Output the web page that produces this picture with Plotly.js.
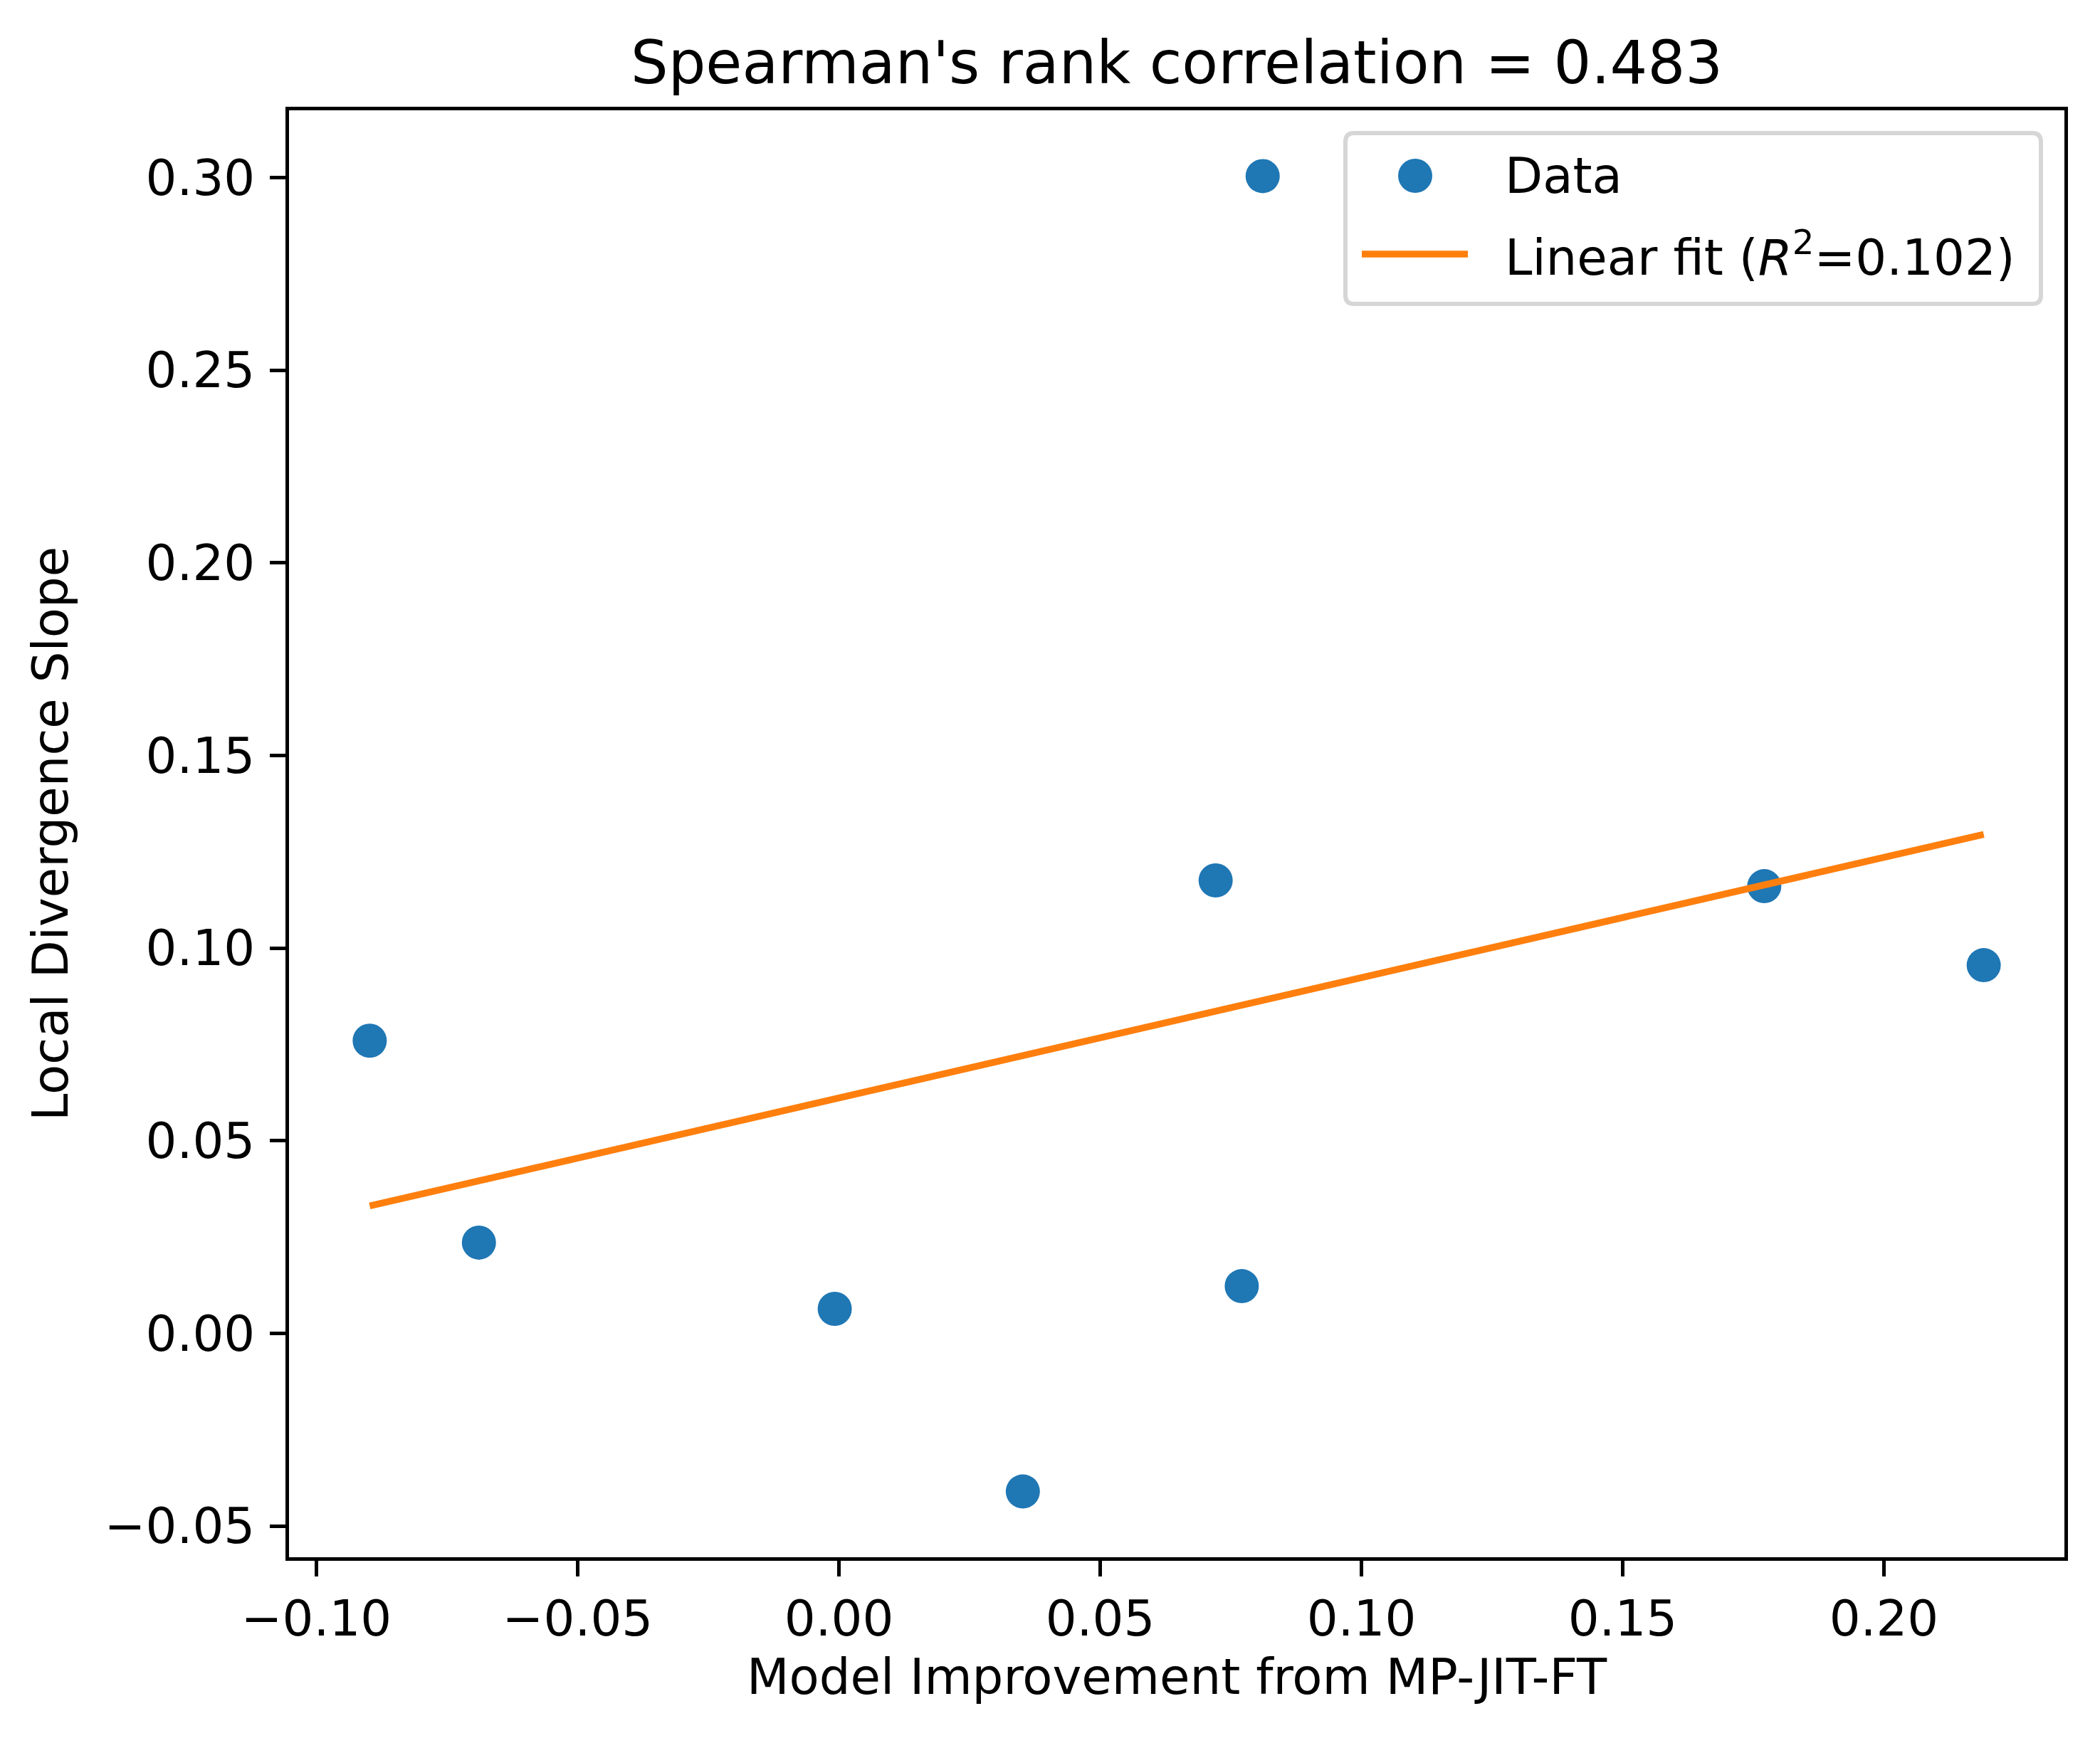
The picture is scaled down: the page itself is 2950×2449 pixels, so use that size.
<!DOCTYPE html>
<html>
<head>
<meta charset="utf-8">
<script src="https://cdn.plot.ly/plotly-3.0.1.min.js"></script>
<style>
  html, body { margin: 0; padding: 0; background: #ffffff; }
  #chart { width: 2950px; height: 2449px; }
</style>
</head>
<body>
<div id="chart"></div>
<script>
// Per-model measurements
const improvement = [-0.0898, -0.0689, -0.0008, 0.0352, 0.0721, 0.0771, 0.0811, 0.1771, 0.2191];
const divergenceSlope = [0.0760, 0.0236, 0.0064, -0.0410, 0.1176, 0.0123, 0.3004, 0.1161, 0.0956];

// Axis labels and tick values
const xLabel = "Model Improvement from MP-JIT-FT";
const yLabel = "Local Divergence Slope";
const xTicks = [-0.10, -0.05, 0.00, 0.05, 0.10, 0.15, 0.20];
const yTicks = [-0.05, 0.00, 0.05, 0.10, 0.15, 0.20, 0.25, 0.30];

// ---- statistics ----
function mean(a) { return a.reduce((s, v) => s + v, 0) / a.length; }
function ranks(a) {
  const idx = a.map((v, i) => i).sort((i, j) => a[i] - a[j]);
  const r = new Array(a.length);
  idx.forEach((k, pos) => { r[k] = pos + 1; });
  return r;
}
function pearson(x, y) {
  const mx = mean(x), my = mean(y);
  let sxy = 0, sxx = 0, syy = 0;
  for (let i = 0; i < x.length; i++) {
    sxy += (x[i] - mx) * (y[i] - my);
    sxx += (x[i] - mx) ** 2;
    syy += (y[i] - my) ** 2;
  }
  return { r: sxy / Math.sqrt(sxx * syy), slope: sxy / sxx, intercept: my - (sxy / sxx) * mx };
}
const fit = pearson(improvement, divergenceSlope);
const r2 = fit.r * fit.r;
const rho = pearson(ranks(improvement), ranks(divergenceSlope)).r;

const xMin = Math.min(...improvement), xMax = Math.max(...improvement);
const fitX = [xMin, xMax];
const fitY = fitX.map(v => fit.intercept + fit.slope * v);

// 5% padding around the data, like an auto-scaled axis
function padded(a) {
  const lo = Math.min(...a), hi = Math.max(...a), m = (hi - lo) * 0.05;
  return [lo - m, hi + m];
}

// ---- page geometry ----
const W = 2950, H = 2449;
const L = 406, R = 2900, T = 155, B = 2188;
const px = v => (v - L) / (R - L);
const py = v => (B - v) / (B - T);

const FONT = "DejaVu Sans, Verdana, sans-serif";
const BLUE = "#1f77b4", ORANGE = "#ff7f0e";

const traces = [
  {
    x: improvement, y: divergenceSlope,
    type: "scatter", mode: "markers", name: "Data",
    marker: { color: BLUE, size: 48, line: { width: 0 } },
    hoverinfo: "x+y"
  },
  {
    x: fitX, y: fitY,
    type: "scatter", mode: "lines", name: "Linear fit",
    line: { color: ORANGE, width: 9.6 },
    hoverinfo: "x+y"
  }
];

// Legend frame (rounded box), symbols and labels
const bx0 = 1890, bx1 = 2867, by0 = 187, by1 = 427, rad = 12;
const X = v => px(v), Y = v => py(v);
const boxPath = [
  "M", X(bx0 + rad), Y(by0),
  "L", X(bx1 - rad), Y(by0),
  "Q", X(bx1), Y(by0), X(bx1), Y(by0 + rad),
  "L", X(bx1), Y(by1 - rad),
  "Q", X(bx1), Y(by1), X(bx1 - rad), Y(by1),
  "L", X(bx0 + rad), Y(by1),
  "Q", X(bx0), Y(by1), X(bx0), Y(by1 - rad),
  "L", X(bx0), Y(by0 + rad),
  "Q", X(bx0), Y(by0), X(bx0 + rad), Y(by0),
  "Z"
].map(t => typeof t === "number" ? t.toFixed(6) : t).join(" ");

const shapes = [
  { type: "path", xref: "paper", yref: "paper", path: boxPath,
    fillcolor: "rgba(255,255,255,0.8)", line: { color: "#d6d6d6", width: 6 } },
  { type: "circle", xref: "paper", yref: "paper",
    x0: X(1964), x1: X(2012), y0: Y(271), y1: Y(223),
    fillcolor: BLUE, line: { width: 0 } },
  { type: "line", xref: "paper", yref: "paper",
    x0: X(1913), x1: X(2062), y0: Y(357), y1: Y(357),
    line: { color: ORANGE, width: 9.6 } }
];

const annotations = [
  { xref: "paper", yref: "paper", x: X(2112), y: Y(247), xanchor: "left", yanchor: "middle",
    text: "Data", showarrow: false, font: { family: FONT, size: 69, color: "#000" } },
  { xref: "paper", yref: "paper", x: X(2112), y: Y(357), xanchor: "left", yanchor: "middle",
    text: "Linear fit (<i>R</i><sup>2</sup>=" + r2.toFixed(3) + ")", showarrow: false,
    font: { family: FONT, size: 69, color: "#000" } }
];

const axisCommon = {
  showline: true, linecolor: "#000", linewidth: 5, mirror: true,
  ticks: "outside", ticklen: 22, tickwidth: 5, tickcolor: "#000",
  showgrid: false, zeroline: false,
  tickformat: ".2f",
  tickfont: { family: FONT, size: 69, color: "#000" },
  tickmode: "array"
};

const layout = {
  width: W, height: H,
  margin: { l: L, r: W - R, t: T, b: H - B, pad: 0 },
  paper_bgcolor: "#ffffff", plot_bgcolor: "#ffffff",
  font: { family: FONT, color: "#000" },
  showlegend: false,
  title: {
    text: "Spearman's rank correlation = " + rho.toFixed(3),
    font: { family: FONT, size: 83, color: "#000" },
    x: 0.5, xref: "paper", xanchor: "center",
    y: 1 - 88 / H, yref: "container", yanchor: "middle"
  },
  xaxis: Object.assign({}, axisCommon, {
    range: padded(improvement), tickvals: xTicks,
    title: { text: xLabel, font: { family: FONT, size: 69, color: "#000" }, standoff: 20 }
  }),
  yaxis: Object.assign({}, axisCommon, {
    range: padded(divergenceSlope), tickvals: yTicks,
    ticklabelstandoff: 7,
    title: { text: yLabel, font: { family: FONT, size: 69, color: "#000" }, standoff: 30 }
  }),
  shapes: shapes,
  annotations: annotations
};

Plotly.newPlot("chart", traces, layout, { displayModeBar: false, staticPlot: true });
</script>
</body>
</html>
